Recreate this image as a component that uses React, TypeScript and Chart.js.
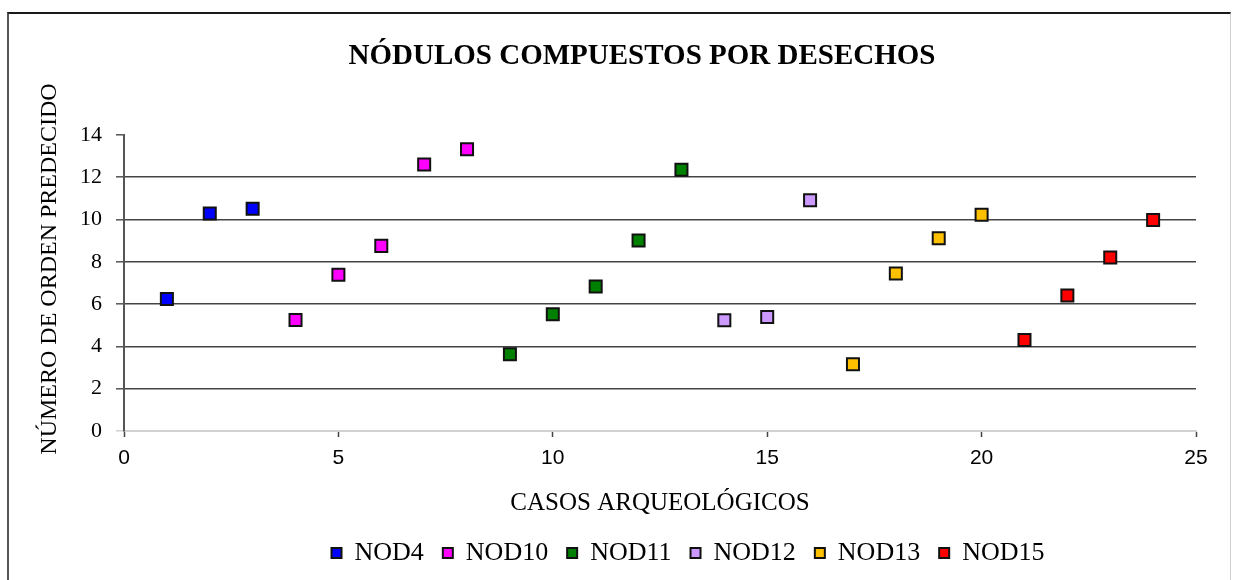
import React, { useEffect, useRef } from "react";
import { Chart, registerables } from "chart.js";

Chart.register(...registerables);

const chartTitle = "NÓDULOS COMPUESTOS POR DESECHOS";
const xAxisTitle = "CASOS ARQUEOLÓGICOS";
const yAxisTitle = "NÚMERO DE ORDEN PREDECIDO";

const seriesNames = ["NOD4", "NOD10", "NOD11", "NOD12", "NOD13", "NOD15"];
const seriesColors = ["#0000FF", "#FF00FF", "#008000", "#CC99FF", "#FFC000", "#FF0000"];

const nod4Cases = [1, 2, 3];
const nod4Values = [6.24, 10.28, 10.5];
const nod10Cases = [4, 5, 6, 7, 8];
const nod10Values = [5.25, 7.38, 8.75, 12.6, 13.32];
const nod11Cases = [9, 10, 11, 12, 13];
const nod11Values = [3.63, 5.52, 6.83, 9.0, 12.35];
const nod12Cases = [14, 15, 16];
const nod12Values = [5.24, 5.39, 10.91];
const nod13Cases = [17, 18, 19, 20];
const nod13Values = [3.15, 7.44, 9.11, 10.22];
const nod15Cases = [21, 22, 23, 24];
const nod15Values = [4.3, 6.4, 8.2, 9.97];

const xMin = 0;
const xMax = 25;
const xStep = 5;
const yMin = 0;
const yMax = 14;
const yStep = 2;

const allCases = [nod4Cases, nod10Cases, nod11Cases, nod12Cases, nod13Cases, nod15Cases];
const allValues = [nod4Values, nod10Values, nod11Values, nod12Values, nod13Values, nod15Values];

const serif = '"Liberation Serif", "Times New Roman", serif';
const sans = '"Liberation Sans", Arial, sans-serif';

const yTitlePlugin = {
  id: "yTitlePlugin",
  afterDraw(chart: any) {
    const ctx = chart.ctx;
    ctx.save();
    ctx.translate(50, 269);
    ctx.rotate(-Math.PI / 2);
    ctx.font = `24px ${serif}`;
    ctx.fillStyle = "#000";
    ctx.textAlign = "center";
    ctx.textBaseline = "middle";
    ctx.fillText(yAxisTitle, 0, 0);
    ctx.restore();
  },
};

const boxShiftPlugin = {
  id: "boxShiftPlugin",
  afterLayout(chart: any) {
    const lg = chart.legend;
    if (lg) {
      lg.left += 52;
      lg.right += 52;
    }
    const tb = chart.titleBlock;
    if (tb) {
      tb.left += 6;
      tb.right += 6;
    }
  },
};

export default function App() {
  const canvasRef = useRef<HTMLCanvasElement | null>(null);

  useEffect(() => {
    if (!canvasRef.current) return;
    const datasets = seriesNames.map((name, i) => ({
      label: name,
      data: allCases[i].map((c, j) => ({ x: c, y: allValues[i][j] })),
      backgroundColor: seriesColors[i],
      borderColor: "#222",
      borderWidth: 1,
      pointStyle: "rect",
      pointRadius: 8.5,
      pointBorderWidth: 2,
      pointBorderColor: "#111",
      showLine: false,
    }));

    const chart = new Chart(canvasRef.current, {
      type: "scatter",
      data: { datasets },
      plugins: [yTitlePlugin, boxShiftPlugin],
      options: {
        animation: false,
        responsive: false,
        events: [],
        layout: { padding: { left: 76, right: 38, top: 0, bottom: 4 } },
        plugins: {
          title: {
            display: true,
            text: chartTitle,
            color: "#000",
            font: { family: serif, size: 29, weight: "bold" },
            padding: { top: 39, bottom: 61 },
          },
          legend: {
            display: true,
            position: "bottom",
            labels: {
              color: "#000",
              font: { family: serif, size: 26 },
              boxWidth: 10,
              boxHeight: 10,
              padding: 19,
            },
          },
          tooltip: { enabled: false },
        },
        scales: {
          x: {
            type: "linear",
            min: xMin,
            max: xMax,
            afterFit: (s: any) => {
              s.height = 90;
            },
            ticks: {
              stepSize: xStep,
              color: "#000",
              font: { family: sans, size: 21 },
              padding: 9,
            },
            grid: {
              drawOnChartArea: false,
              drawTicks: true,
              tickLength: 6,
              tickColor: "#444",
              tickWidth: 1.5,
            },
            border: { display: true, color: "#d2d2d2", width: 2 },
            title: {
              display: true,
              text: xAxisTitle,
              color: "#000",
              font: { family: serif, size: 25 },
              padding: { top: 0, bottom: 3 },
            },
          },
          y: {
            type: "linear",
            min: yMin,
            max: yMax,
            afterFit: (s: any) => {
              s.width = 48;
            },
            ticks: {
              stepSize: yStep,
              color: "#000",
              font: { family: serif, size: 22 },
              padding: 14,
            },
            grid: {
              color: (c: any) =>
                c.tick && (c.tick.value === yMin || c.tick.value === yMax) ? "rgba(0,0,0,0)" : "#444",
              lineWidth: 1.6,
              tickLength: 8,
              tickColor: (c: any) => (c.tick && c.tick.value === yMin ? "#d2d2d2" : "#555"),
              tickWidth: 1.5,
            },
            border: { display: true, color: "#555", width: 2 },
          },
        },
      } as any,
    });
    return () => chart.destroy();
  }, []);

  return (
    <div>
      <div
        style={{
          position: "absolute",
          left: 7,
          top: 12,
          width: 1224,
          height: 568,
          boxSizing: "border-box",
          borderTop: "2px solid #1a1a1a",
          borderLeft: "2px solid #555",
          borderRight: "1px solid #d0d0d0",
        }}
      />
      <canvas
        ref={canvasRef}
        width={1234}
        height={580}
        style={{ position: "absolute", left: 0, top: 0, display: "block", zIndex: 1 }}
      />
    </div>
  );
}
